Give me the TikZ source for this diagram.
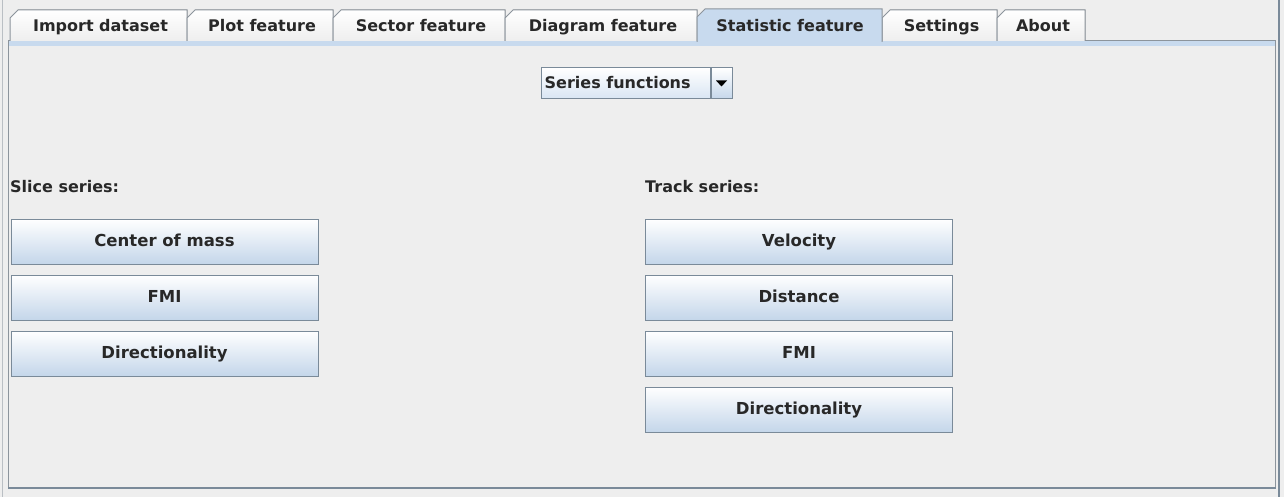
\documentclass[tikz,border=0pt]{standalone}
\usepackage{fontspec}
\setmainfont{DejaVu Sans}
\usepackage{tikz}
\usetikzlibrary{positioning}
\definecolor{panelbg}{RGB}{238,238,238}
\definecolor{selblue}{RGB}{200,218,238}
\definecolor{btnbot}{RGB}{196,214,234}
\definecolor{btnline}{RGB}{122,138,153}
\definecolor{tabline}{RGB}{140,148,156}
\definecolor{txt}{RGB}{40,40,40}

\tikzset{
  lbl/.style={text=txt,font=\bfseries\fontsize{16}{19}\selectfont,inner sep=0pt,
    text height=12pt,text depth=3pt},
  btn/.style={lbl,draw=btnline,line width=1pt,top color=white,bottom color=btnbot,
    minimum width=307pt,minimum height=45pt,anchor=center,
    font=\bfseries\fontsize{16.5}{19}\selectfont},
  tabtxt/.style={lbl,anchor=center}
}

\begin{document}
\begin{tikzpicture}[x=1pt,y=-1pt,line cap=butt,line join=miter]
\useasboundingbox (0,0) rectangle (1284,497);
\fill[panelbg] (0,0) rectangle (1284,497);
% window edges
\draw[tabline!60,line width=1pt] (2.5,0) -- (2.5,497);
\draw[btnline,line width=2pt] (1279,0) -- (1279,497);
% panel
\fill[panelbg] (8,41) rectangle (1275,489);
\fill[selblue] (9,41) rectangle (1275,46);
\draw[tabline,line width=1pt] (8,489) -- (8,41) -- (1275,41) -- (1275,489);
\draw[btnline,line width=2.5pt] (8,488) -- (1276,488);
% tabs
\foreach \xa/\xb/\name/\lab in {10/187/imp/Import dataset,187/333/plot/Plot feature,
    333/505/sect/Sector feature,505/697/diag/Diagram feature,882/997/sett/Settings,
    997/1085/about/About}{
  \filldraw[draw=tabline,line width=1pt,top color=white,bottom color=panelbg]
    (\xa,41) -- (\xa,18) -- ({\xa+8},10) -- (\xb,10) -- (\xb,41);
  \node[tabtxt] (tab\name) at ({(\xa+\xb)/2+2},27) {\lab};
}
\filldraw[draw=tabline,line width=1pt,fill=selblue]
  (697,42) -- (697,17) -- (705,9) -- (882,9) -- (882,42);
\fill[selblue] (698,40) rectangle (881,46);
\node[tabtxt] (tabstat) at (790,27) {Statistic feature};
% combo box
\node[draw=btnline,line width=1pt,top color=white,bottom color=selblue!70,
  minimum width=169pt,minimum height=31pt,inner sep=0pt] (combo) at (625.5,83.5) {};
\node[lbl,anchor=west] (combotxt) at ([xshift=4pt,yshift=-0.5pt]combo.west) {Series functions};
\node[draw=btnline,line width=1pt,top color=white,bottom color=btnbot,
  minimum width=21pt,minimum height=31pt,inner sep=0pt,right=0pt of combo] (arrowbtn) {};
\fill[black] ([xshift=-5.5pt,yshift=3pt]arrowbtn.center) -- ([xshift=5.5pt,yshift=3pt]arrowbtn.center)
  -- ([yshift=-3pt]arrowbtn.center) -- cycle;
% slice series
\node[lbl,anchor=west] (slicelbl) at (10,188) {Slice series:};
\node[btn] (center) at (164.5,241.5) {Center of mass};
\node[btn,below=10pt of center] (slicefmi) {FMI};
\node[btn,below=10pt of slicefmi] (slicedir) {Directionality};
% track series
\node[lbl,anchor=west] (tracklbl) at (645,188) {Track series:};
\node[btn] (velo) at (799,241.5) {Velocity};
\node[btn,below=10pt of velo] (dist) {Distance};
\node[btn,below=10pt of dist] (trackfmi) {FMI};
\node[btn,below=10pt of trackfmi] (trackdir) {Directionality};
\end{tikzpicture}
\end{document}
